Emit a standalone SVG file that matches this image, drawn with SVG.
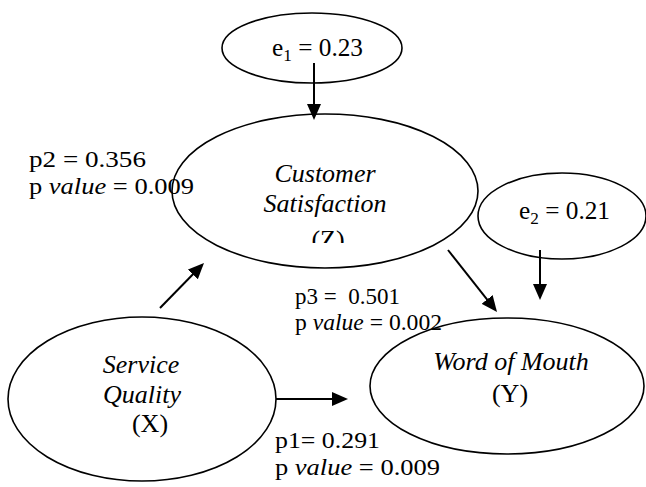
<svg xmlns="http://www.w3.org/2000/svg" width="646" height="487" viewBox="0 0 646 487">
<style>
.node{fill:none;stroke:#000;stroke-width:1.6}
.lbl{font-family:"Liberation Serif","DejaVu Serif",serif;font-size:26px;fill:#000}
.it{font-style:italic}
.edge{font-family:"Liberation Serif","DejaVu Serif",serif;font-size:24px;fill:#000}
.err{font-family:"Liberation Serif","DejaVu Serif",serif;font-size:25px;fill:#000}
.conn{stroke:#000;stroke-width:2;fill:none;marker-end:url(#ah)}
</style>
<defs>
<marker id="ah" markerUnits="userSpaceOnUse" markerWidth="16" markerHeight="14" refX="10" refY="7" orient="auto">
<path d="M0,0 L16,7 L0,14 z" fill="#000"/>
</marker>
<clipPath id="zclip"><rect x="280" y="200" width="100" height="43"/></clipPath>
</defs>
<rect width="646" height="487" fill="#fff"/>
<g id="e1">
<ellipse class="node" cx="312" cy="48" rx="90" ry="35"/>
<text class="err" x="272" y="56" textLength="91" lengthAdjust="spacingAndGlyphs">e<tspan font-size="17" dy="5">1</tspan><tspan dy="-5"> = 0.23</tspan></text>
</g>
<g id="Z">
<ellipse class="node" cx="325" cy="191" rx="153" ry="77"/>
<text class="lbl it" x="325" y="182" text-anchor="middle">Customer</text>
<text class="lbl it" x="325" y="212" text-anchor="middle">Satisfaction</text>
<text class="lbl" x="328" y="248" text-anchor="middle" clip-path="url(#zclip)">(Z)</text>
</g>
<g id="e2">
<ellipse class="node" cx="562" cy="216" rx="84" ry="43"/>
<text class="err" x="519" y="219" textLength="91" lengthAdjust="spacingAndGlyphs">e<tspan font-size="17" dy="5">2</tspan><tspan dy="-5"> = 0.21</tspan></text>
</g>
<g id="X">
<ellipse class="node" cx="142" cy="399" rx="134" ry="82"/>
<text class="lbl it" x="141" y="373" text-anchor="middle">Service</text>
<text class="lbl it" x="142" y="403" text-anchor="middle">Quality</text>
<text class="lbl" x="150" y="432" text-anchor="middle">(X)</text>
</g>
<g id="Y">
<ellipse class="node" cx="507" cy="386" rx="137" ry="68"/>
<text class="lbl it" x="511" y="370" text-anchor="middle">Word of Mouth</text>
<text class="lbl" x="510" y="402" text-anchor="middle">(Y)</text>
</g>
<g id="connectors">
<line class="conn" x1="314" y1="63" x2="314" y2="114"/>
<line class="conn" x1="540" y1="250" x2="540" y2="294"/>
<line class="conn" x1="448" y1="250" x2="493.3" y2="307.3"/>
<line class="conn" x1="160" y1="308" x2="199.8" y2="267.2"/>
<line class="conn" x1="276" y1="399" x2="342" y2="399"/>
</g>
<g id="labels">
<text class="edge" x="29" y="167" textLength="117" lengthAdjust="spacingAndGlyphs">p2 = 0.356</text>
<text class="edge" x="29" y="194" textLength="165" lengthAdjust="spacingAndGlyphs">p <tspan class="it">value</tspan> = 0.009</text>
<text class="edge" x="295" y="304" textLength="105" lengthAdjust="spacingAndGlyphs" xml:space="preserve">p3 =  0.501</text>
<text class="edge" x="295" y="330" textLength="147" lengthAdjust="spacingAndGlyphs">p <tspan class="it">value</tspan> = 0.002</text>
<text class="edge" x="275" y="448" textLength="105" lengthAdjust="spacingAndGlyphs">p1= 0.291</text>
<text class="edge" x="275" y="475" textLength="165" lengthAdjust="spacingAndGlyphs">p <tspan class="it">value</tspan> = 0.009</text>
</g>
</svg>
